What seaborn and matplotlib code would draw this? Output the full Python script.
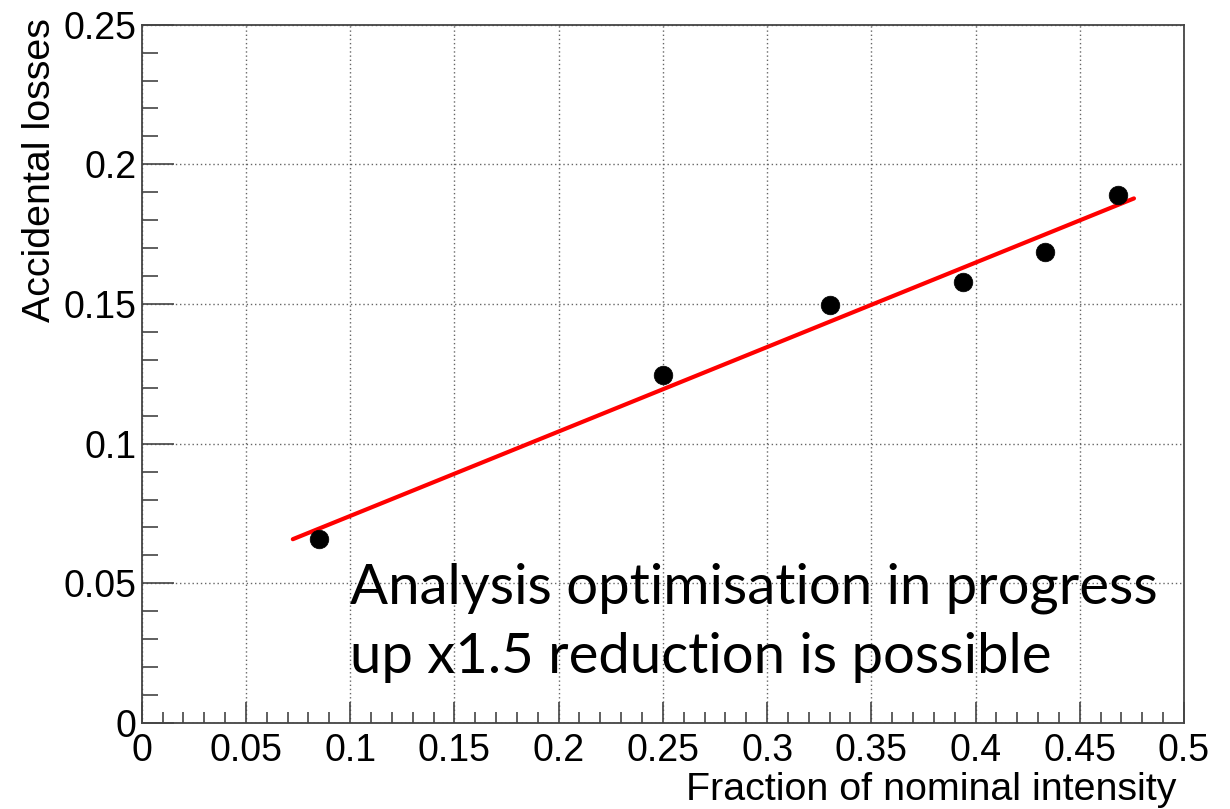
import matplotlib
matplotlib.use("Agg")
import matplotlib.pyplot as plt
import seaborn as sns
import pandas as pd
import numpy as np
from matplotlib.ticker import MultipleLocator, FixedFormatter, FixedLocator

# ---- data ----
fraction = [0.085, 0.25, 0.33, 0.394, 0.4335, 0.4685]
losses = [0.0658, 0.1245, 0.1495, 0.158, 0.1685, 0.189]
fit_x = [0.0725, 0.476]
fit_y = [0.0658, 0.1878]
x_ticks = [0, 0.05, 0.1, 0.15, 0.2, 0.25, 0.3, 0.35, 0.4, 0.45, 0.5]
x_tick_labels = ["0", "0.05", "0.1", "0.15", "0.2", "0.25", "0.3", "0.35", "0.4", "0.45", "0.5"]
y_ticks = [0, 0.05, 0.1, 0.15, 0.2, 0.25]
y_tick_labels = ["0", "0.05", "0.1", "0.15", "0.2", "0.25"]

sns.set_theme(style="white")
plt.rcParams['font.family'] = ['Liberation Sans', 'DejaVu Sans']

fig = plt.figure(figsize=(12.3, 8.09), dpi=100)
ax = fig.add_axes([0.1152, 0.1063, 0.8474, 0.8632])

df_pts = pd.DataFrame({"x": fraction, "y": losses})
df_fit = pd.DataFrame({"x": fit_x, "y": fit_y})

sns.lineplot(data=df_fit, x="x", y="y", ax=ax, color="#ff0000", linewidth=3.0, zorder=3)
sns.scatterplot(data=df_pts, x="x", y="y", ax=ax, color="black", s=180, edgecolor="black",
                linewidth=0.5, zorder=4)

ax.set_xlim(0, 0.5)
ax.set_ylim(0, 0.25)

ax.xaxis.set_major_locator(FixedLocator(x_ticks))
ax.xaxis.set_major_formatter(FixedFormatter(x_tick_labels))
ax.yaxis.set_major_locator(FixedLocator(y_ticks))
ax.yaxis.set_major_formatter(FixedFormatter(y_tick_labels))
ax.xaxis.set_minor_locator(MultipleLocator(0.01))
ax.yaxis.set_minor_locator(MultipleLocator(0.01))

spine_col = "#444444"
ax.tick_params(axis="both", which="both", direction="in", colors=spine_col,
               labelcolor="black", top=False, right=False, bottom=True, left=True)
ax.tick_params(axis="x", which="major", length=15, width=1.2, labelsize=27, pad=7)
ax.tick_params(axis="x", which="minor", length=8, width=1.2)
ax.tick_params(axis="y", which="major", length=23, width=1.2, labelsize=27, pad=4)
ax.tick_params(axis="y", which="minor", length=11.5, width=1.2)

for sp in ax.spines.values():
    sp.set_visible(True)
    sp.set_color(spine_col)
    sp.set_linewidth(1.3)

ax.grid(True, which="major", linestyle=(0, (1, 2)), color="#666666", linewidth=1.0)
ax.set_axisbelow(True)

ax.set_xlabel("")
ax.set_ylabel("")
fig.text(1177 / 1230, 1 / 809, "Fraction of nominal intensity", ha="right", va="bottom",
         fontsize=28.4, color="black")
fig.text(40 / 1230, 1 - 18 / 809, "Accidental losses", ha="center", va="top",
         rotation=90, fontsize=28.4, color="black")

ax.text(0.1, 0.0179, "Analysis optimisation in progress\nup x1.5 reduction is possible",
        fontsize=40.5, family=["Lato", "DejaVu Sans"], color="black", ha="left", va="baseline",
        linespacing=1.45, zorder=5)

fig.savefig("out.png", dpi=100)
